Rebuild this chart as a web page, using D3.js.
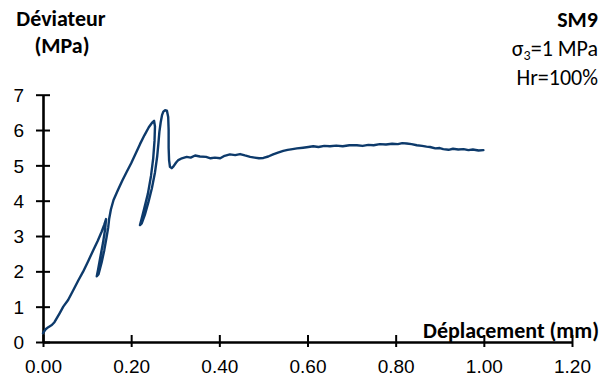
<!DOCTYPE html>
<html>
<head>
<meta charset="utf-8">
<script src="https://cdn.jsdelivr.net/npm/d3@7"></script>
<style>
  html, body { margin: 0; padding: 0; background: #ffffff; }
  svg { display: block; font-family: Carlito, Calibri, Lato, sans-serif; }
</style>
</head>
<body>
<svg id="chart" width="609" height="385"></svg>
<script>
// ---- Data ----
const displacement = [
  0.000, 0.006, 0.012, 0.020, 0.026, 0.031, 0.038, 0.046, 0.057, 0.068,
  0.080, 0.091, 0.103, 0.114, 0.124, 0.133, 0.139, 0.143,
  0.141, 0.136, 0.130, 0.125, 0.122,
  0.126, 0.133, 0.139, 0.144, 0.148, 0.150, 0.154, 0.160,
  0.170, 0.180, 0.190, 0.200, 0.210, 0.220, 0.230, 0.240, 0.247, 0.252,
  0.254, 0.253, 0.250, 0.245, 0.238, 0.230, 0.224, 0.220,
  0.224, 0.231, 0.239, 0.247, 0.254, 0.259, 0.262, 0.264,
  0.267, 0.270, 0.273, 0.277, 0.281, 0.284, 0.285, 0.285, 0.286,
  0.288, 0.292, 0.296, 0.302, 0.307, 0.315, 0.326, 0.335, 0.345, 0.356,
  0.370, 0.380, 0.390, 0.402, 0.412, 0.424, 0.436, 0.447, 0.458, 0.470,
  0.480, 0.490, 0.500, 0.511, 0.522, 0.533, 0.545, 0.555, 0.566, 0.576,
  0.590, 0.602, 0.613, 0.625, 0.638, 0.651, 0.665, 0.680, 0.695, 0.712,
  0.725, 0.738, 0.750, 0.764, 0.778, 0.792, 0.805, 0.815, 0.825, 0.836,
  0.848, 0.860, 0.870, 0.878, 0.890, 0.900, 0.908, 0.920, 0.930, 0.942,
  0.954, 0.965, 0.975, 0.988, 0.999
];
const deviator = [
  0.25, 0.36, 0.42, 0.48, 0.56, 0.67, 0.82, 1.00, 1.19, 1.45,
  1.74, 1.99, 2.30, 2.60, 2.86, 3.12, 3.32, 3.48,
  3.20, 2.80, 2.40, 2.05, 1.86,
  1.92, 2.25, 2.60, 2.95, 3.25, 3.48, 3.75, 4.02,
  4.30, 4.57, 4.82, 5.06, 5.33, 5.60, 5.85, 6.08, 6.20, 6.26,
  6.10, 5.70, 5.20, 4.70, 4.20, 3.80, 3.50, 3.31,
  3.36, 3.60, 3.95, 4.35, 4.80, 5.25, 5.65, 5.95,
  6.22, 6.42, 6.52, 6.56, 6.55, 6.37, 6.00, 5.50, 5.15,
  4.96, 4.92, 4.97, 5.08, 5.15, 5.20, 5.24, 5.22, 5.28, 5.25,
  5.24, 5.20, 5.22, 5.20, 5.27, 5.31, 5.29, 5.32, 5.28, 5.24,
  5.22, 5.20, 5.21, 5.25, 5.31, 5.36, 5.41, 5.44, 5.46, 5.48,
  5.50, 5.52, 5.54, 5.52, 5.55, 5.54, 5.56, 5.54, 5.57, 5.57,
  5.55, 5.58, 5.57, 5.60, 5.59, 5.61, 5.60, 5.63, 5.62, 5.60,
  5.57, 5.55, 5.53, 5.52, 5.48, 5.49, 5.46, 5.44, 5.47, 5.45,
  5.46, 5.43, 5.45, 5.42, 5.43
];
const xTicks = [0, 0.2, 0.4, 0.6, 0.8, 1.0, 1.2];
const yTicks = [0, 1, 2, 3, 4, 5, 6, 7];
const yTitle = ["Déviateur", "(MPa)"];
const xTitle = "Déplacement (mm)";
const sampleName = "SM9";
const hrLabel = "Hr=100%";

// ---- Layout ----
const svg = d3.select("#chart");
const x = d3.scaleLinear().domain([0, 1.2]).range([43, 572]);
const y = d3.scaleLinear().domain([0, 7]).range([342, 94.7]);
const lineColor = "#0d3a6b";
const titleSize = "22px";

// X axis
const gx = svg.append("g")
  .attr("transform", `translate(0,${y(0)})`)
  .call(d3.axisBottom(x).tickValues(xTicks).tickFormat(d3.format(".2f"))
        .tickSizeInner(5).tickSizeOuter(0).tickPadding(0));
gx.select(".domain").attr("stroke", "#000").attr("stroke-width", 2.6);
gx.selectAll(".tick line").attr("y1", -7).attr("stroke", "#000").attr("stroke-width", 2);
gx.selectAll(".tick text")
  .attr("y", 31).attr("dy", 0)
  .attr("fill", "#000")
  .style("font-size", "19px");

// Y axis
const gy = svg.append("g")
  .attr("transform", `translate(${x(0)},0)`)
  .call(d3.axisLeft(y).tickValues(yTicks).tickFormat(d3.format("d"))
        .tickSizeInner(7).tickSizeOuter(0).tickPadding(0));
gy.select(".domain").attr("stroke", "#000").attr("stroke-width", 2.6);
gy.selectAll(".tick line").attr("x1", 7).attr("stroke", "#000").attr("stroke-width", 2);
gy.selectAll(".tick text")
  .attr("x", -19).attr("dy", "0.35em")
  .attr("fill", "#000")
  .style("font-size", "19px");

// Curve
const pts = displacement.map((d, i) => [d, deviator[i]]);
svg.append("path")
  .datum(pts)
  .attr("fill", "none")
  .attr("stroke", lineColor)
  .attr("stroke-width", 2.4)
  .attr("stroke-linejoin", "round")
  .attr("stroke-linecap", "round")
  .attr("d", d3.line().x(d => x(d[0])).y(d => y(d[1])));

// Titles
svg.append("text").text(yTitle[0])
  .attr("x", 61).attr("y", 26).attr("text-anchor", "middle")
  .style("font-weight", "bold").style("font-size", titleSize);
svg.append("text").text(yTitle[1])
  .attr("x", 62).attr("y", 53).attr("text-anchor", "middle")
  .style("font-weight", "bold").style("font-size", titleSize);

svg.append("text").text(xTitle)
  .attr("x", 599).attr("y", 338).attr("text-anchor", "end")
  .style("font-weight", "bold").style("font-size", titleSize);

svg.append("text").text(sampleName)
  .attr("x", 598).attr("y", 27).attr("text-anchor", "end")
  .style("font-weight", "bold").style("font-size", titleSize);

const sig = svg.append("text")
  .attr("x", 598).attr("y", 56).attr("text-anchor", "end")
  .style("font-size", titleSize);
sig.append("tspan").text("σ");
sig.append("tspan").text("3").attr("dy", 4).style("font-size", "14px");
sig.append("tspan").text("=1 MPa").attr("dy", -4);

svg.append("text").text(hrLabel)
  .attr("x", 598).attr("y", 85).attr("text-anchor", "end")
  .style("font-size", titleSize);
</script>
</body>
</html>
